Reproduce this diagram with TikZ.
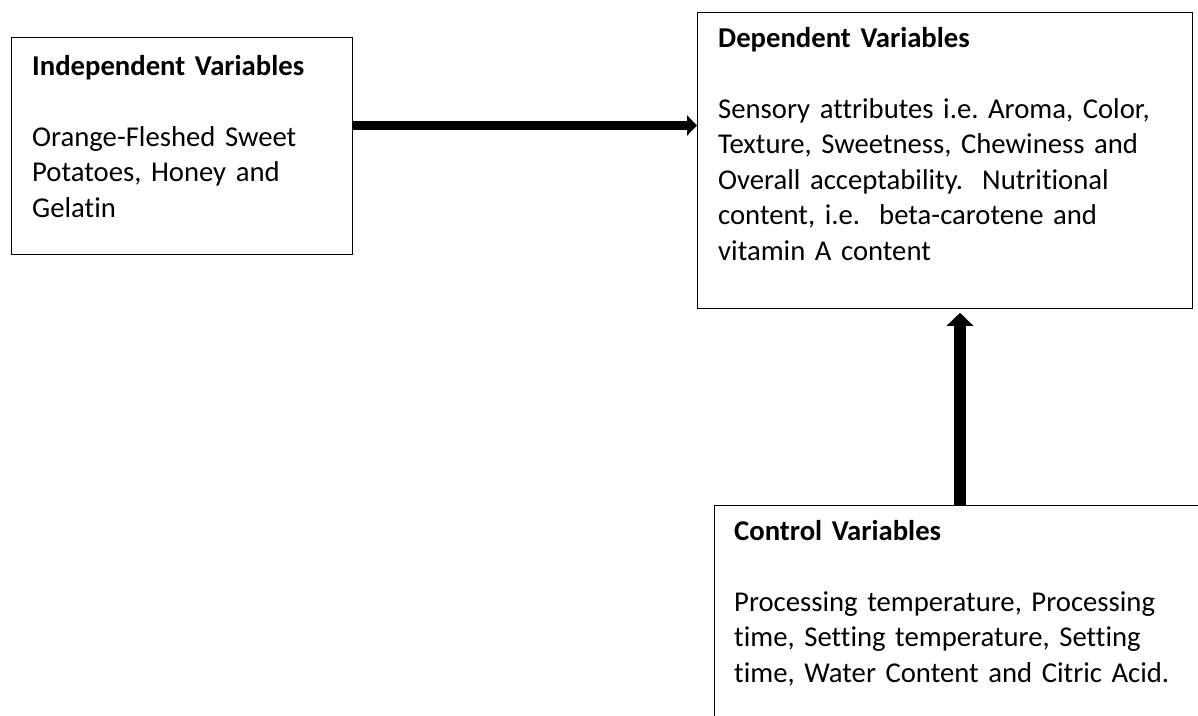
\documentclass[tikz,border=0pt]{standalone}
\usepackage{fontspec}
\setmainfont[Ligatures=CommonOff]{Carlito}
\usetikzlibrary{arrows.meta}

\tikzset{
  varbox/.style={draw,line width=1.3pt,anchor=north west,inner sep=0pt},
  vartext/.style={anchor=base west,inner sep=0pt,text width=#1,align=left,
    font=\fontsize{28.7}{35.5}\selectfont\frenchspacing},
  fatarrow/.style={-{Triangle[length=#1pt,width=2*#1pt]}}
}

\begin{document}
\begin{tikzpicture}[x=1pt,y=-1pt]
\path[use as bounding box,clip] (0,0) rectangle (1198,715);
\fill[white] (0,0) rectangle (1198,715);
% boxes
\node[varbox,minimum width=341pt,minimum height=217pt] (indep) at (11,37) {};
\node[varbox,minimum width=495pt,minimum height=296pt] (dep) at (697,12) {};
\node[varbox,minimum width=530pt,minimum height=260pt] (ctrl) at (714,505) {};
% texts
\node[vartext=310pt] (indeptxt) at (32,75)
  {\textbf{Independent Variables}\\[35.5pt]
   Orange-Fleshed Sweet\\Potatoes, Honey and\\Gelatin};
\node[vartext=470pt] (deptxt) at (718,47)
  {\textbf{Dependent Variables}\\[35.5pt]
   Sensory attributes i.e. Aroma, Color,\\
   Texture, Sweetness, Chewiness and\\
   Overall acceptability.~~Nutritional\\
   content, i.e.~~beta-carotene and\\
   vitamin A content};
\node[vartext=470pt] (ctrltxt) at (734,540)
  {\textbf{Control Variables}\\[35.5pt]
   Processing temperature, Processing\\
   time, Setting temperature, Setting\\
   time, Water Content and Citric Acid.};
% arrows
\coordinate (hstart) at (indep.east |- 0,125.5);
\coordinate (hend) at (dep.west |- 0,125.5);
\draw[fatarrow=10,line width=9pt] (hstart) -- (hend);
\coordinate (vstart) at (960,506);
\coordinate (vend) at (dep.south -| vstart);
\draw[fatarrow=13,line width=12.5pt,shorten >=3.5pt] (vstart) -- (vend);
\end{tikzpicture}
\end{document}
